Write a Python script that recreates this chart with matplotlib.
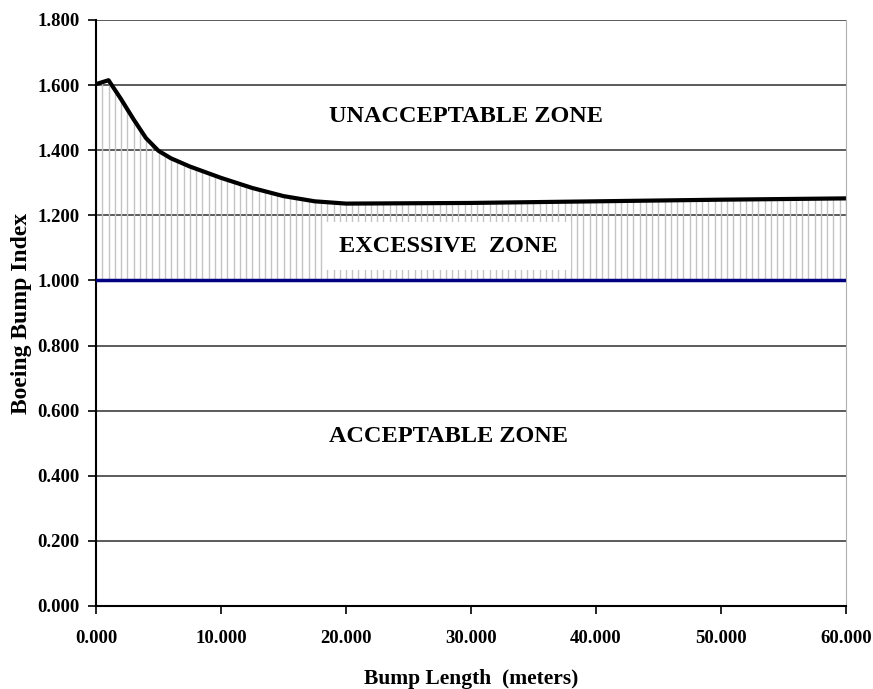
import numpy as np
import matplotlib
matplotlib.use("Agg")
import matplotlib.pyplot as plt

# Data
bump_length = [0, 1, 2, 3, 4, 5, 6, 7.5, 10, 12.5, 15, 17.5, 20, 30, 40, 50, 60]
bump_index = [1.603, 1.615, 1.557, 1.495, 1.437, 1.398, 1.375, 1.350, 1.315, 1.284, 1.259, 1.243, 1.236,
              1.238, 1.243, 1.248, 1.252]
acceptable_limit = 1.0
x_ticks = [0, 10, 20, 30, 40, 50, 60]
y_ticks = [0.0, 0.2, 0.4, 0.6, 0.8, 1.0, 1.2, 1.4, 1.6, 1.8]
zone_labels = ["UNACCEPTABLE ZONE", "EXCESSIVE  ZONE", "ACCEPTABLE ZONE"]

plt.rcParams['font.family'] = ['Liberation Serif', 'DejaVu Serif']
plt.rcParams['font.weight'] = 'bold'

fig = plt.figure(figsize=(8.73, 6.89), dpi=100)
ax = fig.add_axes([0.110, 0.1205, 0.859, 0.8505])

ax.set_xlim(0, 60)
ax.set_ylim(0, 1.8)

# gridlines
for yv in y_ticks[1:]:
    ax.axhline(yv, color='#404040', lw=1.2, zorder=1)

xs = np.array(bump_length, float)
ys = np.array(bump_index, float)

# hatch: vertical lines between limit and curve
hx = np.arange(0, 60.001, 0.5)
hy = np.interp(hx, xs, ys)
ax.vlines(hx, acceptable_limit, hy, color='#c4c4c4', lw=1.0, zorder=2)

# limit line
ax.axhline(acceptable_limit, color='#000080', lw=2.5, zorder=4)

# curve
ax.plot(xs, ys, color='black', lw=3, zorder=5, solid_joinstyle='round',
        solid_capstyle='butt', clip_on=False)

tkw = dict(ha='center', va='center', fontsize=17.5, fontweight='bold', zorder=6)
ax.text(29.6, 1.503, zone_labels[0], **tkw)
ax.text(28.2, 1.105, zone_labels[1],
        bbox=dict(facecolor='white', edgecolor='none', boxstyle='square,pad=0.55'), **tkw)
ax.text(28.2, 0.52, zone_labels[2], **tkw)

ax.set_xticks(x_ticks)
ax.set_xticklabels([f"{v:.3f}" for v in x_ticks])
ax.set_yticks(y_ticks)
ax.set_yticklabels([f"{v:.3f}" for v in y_ticks])
ax.tick_params(direction='out', length=6, width=1.2, labelsize=13.5)
ax.tick_params(axis='y', pad=6)
ax.tick_params(axis='x', pad=11)
for lab in ax.get_xticklabels() + ax.get_yticklabels():
    lab.set_fontweight('bold')

ax.spines['top'].set_visible(False)
ax.spines['right'].set_color('#b0b0b0')
ax.spines['left'].set_linewidth(1.5)
ax.spines['bottom'].set_linewidth(1.5)

ax.set_xlabel("Bump Length  (meters)", fontsize=15.5, fontweight='bold', labelpad=16)
ax.set_ylabel("Boeing Bump Index", fontsize=17, fontweight='bold', labelpad=4)

fig.savefig("out.png", dpi=100)
